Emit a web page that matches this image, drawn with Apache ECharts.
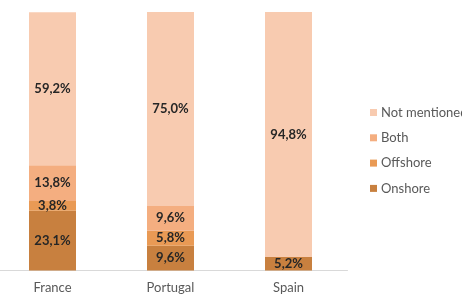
<!DOCTYPE html>
<html><head><meta charset="utf-8">
<script src="https://cdn.jsdelivr.net/npm/echarts@6/dist/echarts.min.js"></script>
<style>html,body{margin:0;padding:0;background:#fff;}#c{width:462px;height:303px;}</style>
</head><body><div id="c"></div>
<script>
const categories = ['France', 'Portugal', 'Spain'];
const onshore = [23.1, 9.6, 5.2];
const offshore = [3.8, 5.8, 0];
const both = [13.8, 9.6, 0];
const notMentioned = [59.2, 75.0, 94.8];
const seriesNames = ['Onshore', 'Offshore', 'Both', 'Not mentioned'];
const seriesColors = ['#C8803F', '#E99A55', '#F4AE80', '#F8CBB0'];
const values = [onshore, offshore, both, notMentioned];

const chart = echarts.init(document.getElementById('c'));
const font = 'Lato, "Open Sans", sans-serif';
chart.setOption({
  animation: false,
  textStyle: { fontFamily: font },
  grid: { left: -6.5, top: 12, right: 114.5, bottom: 32.5, containLabel: false, outerBoundsMode: 'none' },
  legend: {
    orient: 'vertical', left: 370, top: 106, padding: 0,
    data: ['Not mentioned', 'Both', 'Offshore', 'Onshore'],
    itemWidth: 7, itemHeight: 7, itemGap: 12.3, icon: 'rect',
    textStyle: { fontSize: 13, color: '#595959', fontFamily: font, padding: [0, 0, 0, -1] }
  },
  xAxis: {
    type: 'category', data: categories,
    axisLine: { lineStyle: { color: '#D9D9D9' } },
    axisTick: { show: false },
    axisLabel: { fontSize: 13, color: '#595959', margin: 11, fontFamily: font }
  },
  yAxis: { type: 'value', min: 0, max: 100, show: false, splitLine: { show: false } },
  series: values.map((v, i) => ({
    name: seriesNames[i], type: 'bar', stack: 't', barWidth: 47,
    itemStyle: { color: seriesColors[i] },
    data: v,
    label: {
      show: true, position: 'inside', fontSize: 13, fontWeight: 'bold',
      color: '#262626', fontFamily: font,
      formatter: p => p.value > 0 ? p.value.toFixed(1).replace('.', ',') + '%' : ''
    }
  }))
});
</script></body></html>
